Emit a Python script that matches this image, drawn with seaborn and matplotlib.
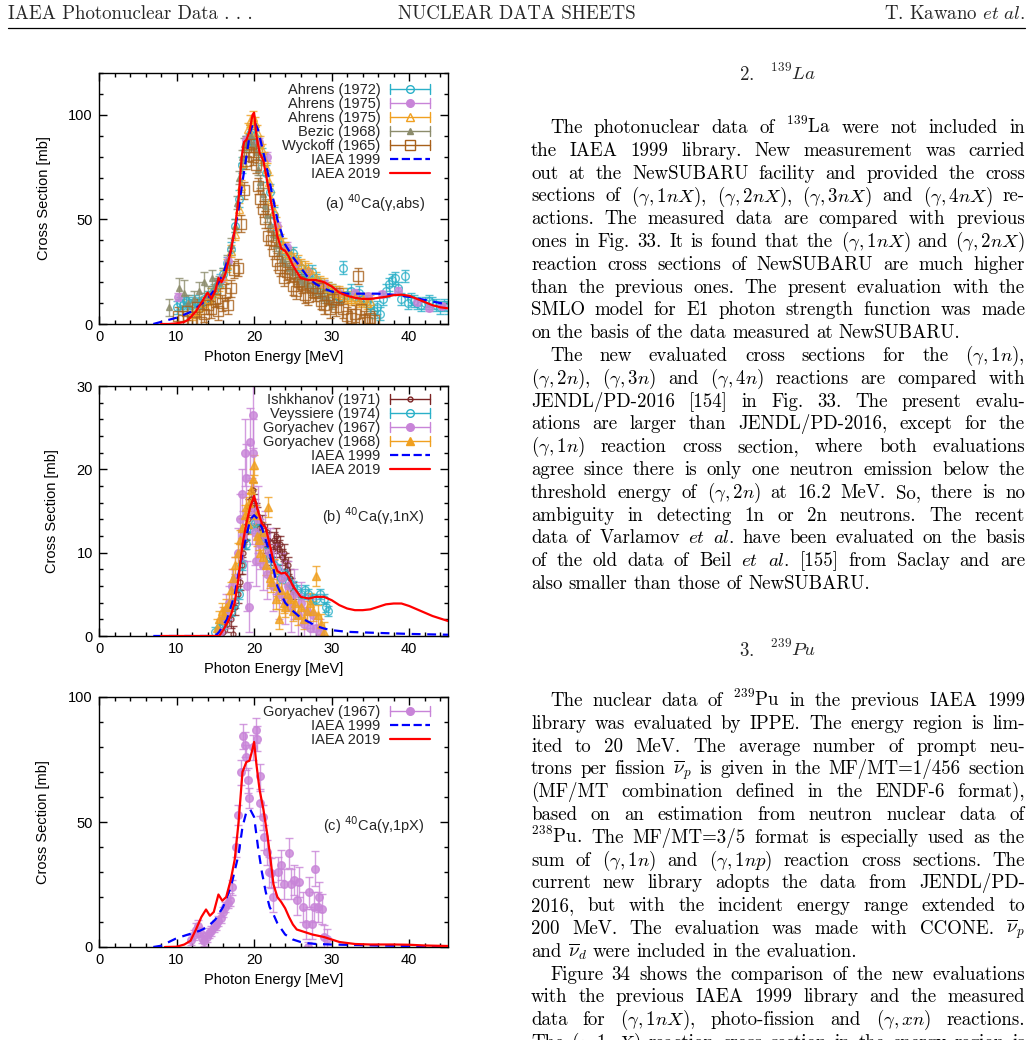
import matplotlib
matplotlib.use("Agg")
import matplotlib.pyplot as plt
import seaborn as sns
from matplotlib.lines import Line2D
from matplotlib.legend_handler import HandlerBase
from matplotlib.ticker import MultipleLocator

# ---------------- data: (E [MeV], sigma [mb], dsigma [mb]) ----------------
# (a) 40Ca(g,abs)
ABS_AHRENS72 = [(10.0, 8, 3), (10.4, 10, 3), (10.8, 9, 3), (11.2, 11, 3), (11.6, 10, 3), (12.0, 9, 3),
                (12.4, 11, 3), (12.8, 9, 3), (13.2, 10, 3), (13.6, 12, 3), (14.0, 13, 3), (14.4, 14, 3),
                (14.8, 16, 3), (15.2, 18, 3), (15.6, 21, 3), (16.0, 24, 3), (16.5, 29, 3), (17.0, 36, 3),
                (17.5, 47, 3), (18.0, 60, 4), (18.5, 76, 4), (19.0, 86, 4), (19.5, 91, 4), (20.0, 90, 4),
                (20.5, 86, 4), (21.0, 80, 4), (21.5, 72, 4), (22.0, 63, 4), (22.5, 52, 4), (23.0, 44, 3),
                (23.5, 38, 3), (24.0, 35, 3), (24.5, 33, 3), (25.0, 34, 3), (25.5, 29, 3), (26.0, 27, 3),
                (26.5, 25, 3), (27.0, 24, 3), (27.5, 25, 3), (28.0, 21, 3), (28.5, 19, 3), (29.0, 18, 3),
                (29.5, 17, 3), (30.0, 16, 3), (30.5, 15, 3), (31.0, 13, 3), (31.5, 27, 3), (32.0, 14, 3),
                (32.5, 16, 3), (33.0, 13, 3), (33.5, 15, 3), (34.0, 12, 3), (34.5, 11, 3), (35.0, 9, 3),
                (35.4, 6, 3), (35.8, 8, 3), (36.2, 5, 3), (36.6, 12, 3), (37.0, 16, 3), (37.4, 19, 3),
                (37.8, 21, 3), (38.2, 22, 3), (38.6, 17, 3), (39.0, 12, 3), (39.4, 23, 3), (39.8, 10, 3),
                (40.2, 12, 3), (40.6, 11, 3), (41.0, 10, 3), (41.5, 9, 3), (42.0, 10, 3), (42.5, 11, 3),
                (43.0, 10, 3), (43.5, 9, 3), (44.0, 8, 3), (44.5, 9, 3), (45.0, 8, 3)]
ABS_AHRENS75_A = [(10.2, 13, 2), (15.8, 22, 2), (16.6, 30, 2), (19.0, 88, 2), (20.6, 87, 2), (21.6, 80, 2),
                  (23.0, 47, 2), (24.2, 37, 2), (25.4, 29, 2), (27.0, 25, 2), (29.0, 19, 2), (31.0, 15, 2),
                  (33.0, 15, 1.5), (34.7, 13.5, 1.5), (36.5, 14.5, 1.5), (38.5, 16, 1.5), (41.0, 10.5, 1.5),
                  (42.5, 7.5, 1.5), (44.2, 8.5, 1.5)]
ABS_AHRENS75_B = [(12.0, 5, 3), (12.5, 6, 3), (13.0, 8, 3), (13.5, 10, 3), (14.0, 12, 3), (14.5, 14, 3),
                  (15.0, 16, 3), (15.5, 19, 3), (16.0, 23, 3), (16.5, 28, 3), (17.0, 35, 3), (17.5, 43, 3),
                  (18.0, 55, 3), (18.3, 66, 3), (18.6, 77, 3), (18.9, 86, 3), (19.2, 93, 3), (19.5, 97, 3),
                  (19.8, 99, 3), (20.1, 96, 3), (20.4, 92, 3), (20.7, 87, 3), (21.0, 83, 3), (21.3, 79, 3),
                  (21.6, 74, 3), (21.9, 68, 3), (22.2, 60, 3), (22.5, 54, 3), (22.8, 48, 3), (23.1, 44, 3),
                  (23.4, 40, 3), (23.7, 38, 3), (24.0, 36, 3), (24.4, 34, 3), (24.8, 33, 3), (25.2, 31, 3),
                  (25.6, 30, 3), (26.0, 28, 3), (26.5, 27, 3), (27.0, 26, 3), (27.5, 24, 3), (28.0, 22, 3),
                  (28.5, 20, 3), (29.0, 19, 3), (29.5, 17, 3), (30.0, 16, 3), (30.5, 15, 3), (31.0, 15, 3),
                  (31.5, 14, 3), (32.0, 13, 3), (32.5, 12, 3), (33.0, 13, 3), (33.5, 11, 3), (34.0, 12, 3),
                  (34.5, 10, 3), (35.0, 11, 3)]
ABS_BEZIC68 = [(9.0, 8, 4), (10.3, 17, 5), (10.9, 15, 6), (11.5, 10, 4), (12.3, 12, 4), (12.9, 16, 4),
               (13.5, 20, 5), (14.0, 14, 4), (14.6, 22, 4), (15.0, 18, 4), (15.5, 20, 3), (16.0, 24, 3),
               (16.5, 30, 3), (17.0, 38, 3), (17.5, 47, 3), (17.8, 58, 3), (18.1, 70, 3), (18.4, 80, 3),
               (18.7, 86, 3), (19.0, 87, 3), (19.3, 88, 3), (19.6, 90, 3), (19.9, 86, 3), (20.2, 82, 3),
               (20.5, 74, 3), (20.8, 68, 3), (21.1, 62, 3), (21.4, 57, 3), (21.7, 52, 3), (22.0, 48, 3),
               (22.4, 43, 3), (22.8, 38, 3), (23.2, 34, 3), (23.6, 31, 3), (24.0, 29, 3), (24.5, 27, 3),
               (25.0, 25, 3), (25.5, 22, 3), (26.0, 21, 3), (26.5, 20, 3), (27.0, 19, 3), (27.5, 17, 3),
               (28.0, 16, 3), (28.5, 14, 3), (29.0, 13, 3), (29.5, 12, 3), (30.0, 10, 3)]
ABS_WYCKOFF65 = [(10.2, 4, 4), (10.8, 2, 4), (11.4, 6, 4), (12.0, 1, 4), (12.6, 8, 4), (13.1, 1, 4),
                 (13.6, 5, 4), (14.0, 9, 4), (14.5, 7, 4), (14.9, 12, 4), (15.3, 6, 4), (15.8, 10, 4),
                 (16.2, 15, 4), (16.6, 9, 4), (17.0, 17, 4), (17.4, 26, 4), (17.9, 27, 4), (18.3, 48, 4),
                 (18.7, 64, 4), (19.0, 78, 4), (19.3, 82, 4), (19.6, 86, 4), (19.9, 80, 4), (20.2, 76, 4),
                 (20.5, 66, 4), (20.8, 60, 4), (21.1, 55, 4), (21.4, 50, 4), (21.8, 42, 4), (22.2, 40, 4),
                 (22.6, 35, 4), (23.0, 30, 4), (23.4, 27, 4), (23.8, 22, 4), (24.2, 25, 4), (24.6, 24, 4),
                 (25.0, 18, 4), (25.4, 16, 4), (25.8, 20, 4), (26.2, 19, 4), (26.6, 14, 4), (27.0, 13, 4),
                 (27.4, 17, 4), (27.8, 15, 4), (28.2, 17, 4), (28.6, 11, 4), (29.0, 9, 4), (29.4, 14, 4),
                 (29.8, 7, 4), (30.2, 12, 4), (30.6, 8, 4), (31.0, 13, 4), (31.5, 7, 4), (32.0, 4, 4),
                 (32.5, 3, 4), (33.0, 5, 4), (33.4, 23, 4), (33.8, 7, 4), (34.2, 2, 4), (34.6, 1, 4),
                 (35.0, 3, 4), (35.5, 2, 4)]
ABS_E1999 = [7, 8, 9, 10, 11, 12, 13, 14, 15, 16, 17, 18, 18.5, 19, 19.5, 20, 20.5, 21, 21.5, 22, 23, 24,
             25, 26, 27, 28, 29, 30, 32, 34, 36, 38, 40, 42, 44, 45]
ABS_S1999 = [0, 1, 2, 3, 4.5, 6, 9, 12, 17, 24, 35, 55, 68, 80, 92, 97, 93, 85, 77, 68, 50, 38,
             32, 27, 22, 19, 17, 15.5, 14.5, 14.5, 14.5, 14, 13, 11.5, 10, 9.5]
ABS_E2019 = [8, 9, 10, 11, 11.5, 12, 12.5, 13, 13.5, 14, 14.5, 15, 15.4, 15.8, 16.3, 17, 17.5, 18, 18.4,
             18.7, 19.0, 19.4, 19.8, 20.0, 20.3, 20.7, 21.2, 21.6, 22.0, 22.5, 23.0, 23.5, 24.0, 24.5, 25,
             26, 27, 28, 29, 30, 31, 32, 33, 34, 35, 36, 37, 38, 39, 40, 41, 42, 43, 44, 45]
ABS_S2019 = [0, 0, 0.3, 1, 2, 4, 6, 9, 12, 15, 12, 16, 22, 20, 24, 35, 45, 60, 80,
             87, 88, 92, 100, 101, 90, 82, 78, 70, 62, 52, 42, 36, 35, 32, 28,
             22, 21, 21, 20, 18, 15, 13.5, 12.5, 12, 12, 12.5, 13, 13.8, 14, 13.5, 12, 10.5, 9, 8, 7.5]

# (b) 40Ca(g,1nX)
N_ISHKHANOV71 = [(16.0, 0.5, 1), (16.5, 1.5, 1), (17.0, 2.0, 1), (17.3, 0.2, 1), (17.6, 3.5, 1),
                 (17.9, 5.0, 1), (18.2, 6.5, 1), (18.4, 8.5, 1), (18.6, 10.0, 1), (18.8, 11.5, 1),
                 (19.0, 12.5, 1), (19.2, 14.0, 1), (19.4, 15.5, 1), (19.6, 16.5, 1), (19.8, 17.5, 1),
                 (20.0, 16.0, 1), (20.2, 15.0, 1), (20.4, 14.5, 1), (20.6, 13.0, 1), (20.8, 12.5, 1),
                 (21.0, 13.5, 1), (21.2, 12.0, 1), (21.4, 11.0, 1), (21.6, 12.5, 1), (21.8, 11.5, 1),
                 (22.0, 10.0, 1), (22.2, 9.5, 1), (22.4, 10.5, 1), (22.6, 11.5, 1), (22.8, 12.0, 1),
                 (23.0, 11.0, 1), (23.2, 10.5, 1), (23.4, 11.0, 1), (23.6, 9.5, 1), (23.8, 10.0, 1),
                 (24.0, 9.0, 1), (24.2, 8.0, 1), (24.4, 8.5, 1), (24.6, 7.0, 1), (24.8, 6.0, 1), (25.0, 5.5, 1)]
N_VEYSSIERE74 = [(15.0, 0.5, 0.6), (15.5, 1.0, 0.6), (16.0, 1.5, 0.6), (16.5, 2.5, 0.6), (17.0, 3.0, 0.6),
                 (17.5, 4.0, 0.6), (18.0, 5.0, 0.6), (18.5, 8.5, 0.6), (19.0, 11.0, 0.6), (19.5, 13.0, 0.6),
                 (20.0, 13.5, 0.6), (20.5, 13.0, 0.6), (21.0, 12.0, 0.6), (21.5, 11.0, 0.6), (22.0, 9.5, 0.6),
                 (22.5, 8.5, 0.6), (23.0, 8.0, 0.6), (23.5, 7.0, 0.6), (24.0, 7.5, 0.6), (24.5, 6.5, 0.6),
                 (25.0, 6.0, 0.6), (25.5, 5.5, 0.6), (26.0, 5.0, 0.6), (26.5, 5.5, 0.6), (27.0, 5.0, 0.6),
                 (27.5, 4.5, 0.6), (28.0, 4.5, 0.6), (28.5, 5.0, 0.6), (29.0, 4.5, 0.6), (29.3, 3.5, 0.6),
                 (29.5, 3.0, 0.6)]
N_GORYACHEV67 = [(15.6, 0.5, 1.5), (16.0, 2.0, 1.5), (16.4, 3.0, 2), (16.8, 4.0, 2), (17.2, 6.0, 2),
                 (17.6, 7.0, 2.5), (17.9, 10.0, 3), (18.2, 14.0, 3), (18.4, 17.0, 3), (18.6, 12.0, 3),
                 (18.8, 22.0, 4), (19.0, 19.0, 4), (19.1, 6.0, 3), (19.3, 3.5, 3), (19.5, 23.3, 4),
                 (19.7, 15.0, 4), (19.8, 26.5, 4), (19.9, 22.0, 4), (20.1, 12.5, 4), (20.3, 9.0, 3),
                 (20.5, 14.0, 4), (20.8, 11.0, 3), (21.1, 8.5, 3), (21.4, 12.0, 3), (21.7, 7.5, 3),
                 (22.0, 10.0, 3), (22.4, 6.0, 3), (22.8, 8.0, 3), (23.2, 5.0, 3), (23.6, 7.0, 3),
                 (24.0, 4.5, 3), (24.4, 6.0, 3), (24.8, 3.5, 3), (25.2, 5.0, 3), (25.6, 2.5, 2.5),
                 (26.0, 4.0, 2.5), (26.4, 1.5, 2), (26.8, 3.0, 2), (27.2, 1.0, 2), (27.6, 2.5, 2),
                 (28.0, 1.0, 1.5), (28.5, 0.5, 1.5)]
N_GORYACHEV68 = [(15.2, 1.0, 1), (15.5, 2.0, 1), (15.8, 3.0, 1), (16.1, 2.5, 1), (16.4, 3.5, 1),
                 (16.7, 4.0, 1), (17.0, 5.5, 1), (17.3, 7.0, 1), (17.6, 8.5, 1), (17.9, 10.0, 1.2),
                 (18.2, 11.5, 1.2), (18.5, 13.0, 1.2), (18.8, 14.5, 1.2), (19.0, 15.5, 1.2), (19.2, 13.5, 1.2),
                 (19.4, 16.0, 1.2), (19.6, 17.5, 1.2), (19.8, 18.8, 1.2), (20.0, 20.5, 1.2), (20.2, 14.5, 1.2),
                 (20.4, 12.0, 1.2), (20.6, 11.5, 1.2), (20.8, 10.0, 1.2), (21.0, 12.5, 1.2), (21.2, 9.5, 1.2),
                 (21.5, 8.5, 1.2), (21.8, 15.5, 1.2), (22.0, 7.0, 1.2), (22.2, 6.5, 1.2), (22.5, 8.0, 1.2),
                 (22.8, 4.5, 1.2), (23.0, 6.0, 1.2), (23.2, 2.0, 1.2), (23.5, 5.5, 1.2), (23.8, 4.0, 1.2),
                 (24.0, 3.5, 1.2), (24.3, 5.0, 1.2), (24.6, 4.5, 1.2), (25.0, 3.0, 1.2), (25.3, 4.0, 1.2),
                 (25.6, 2.5, 1.2), (26.0, 3.5, 1.2), (26.4, 2.0, 1.2), (26.8, 3.0, 1.2), (27.2, 4.0, 1.2),
                 (27.6, 3.0, 1.2), (28.0, 7.2, 1.2), (28.3, 2.5, 1.2), (28.6, 1.5, 1.2), (29.0, 0.5, 1.2)]
N_E1999 = [7, 10, 13, 15, 15.5, 16.5, 17.5, 18.5, 19.5, 20, 20.5, 21, 22, 22.5, 23, 24, 25, 26, 27, 28,
           29, 30, 32, 35, 40, 45]
N_S1999 = [0, 0, 0, 0, 0.5, 2, 5, 10, 14, 14.5, 14, 13, 10, 8, 6, 4, 3, 2.2, 1.7, 1.2,
           0.9, 0.7, 0.5, 0.4, 0.25, 0.15]
N_E2019 = [8, 10, 12, 14, 15.5, 16, 16.5, 17, 17.5, 18, 18.5, 19, 19.5, 20, 20.5, 21, 21.5, 22, 22.5, 23,
           23.5, 24, 24.5, 25, 26, 27, 28, 29, 30, 31, 32, 33, 34, 35, 36, 37, 38, 39, 40, 41, 42, 43, 44, 45]
N_S2019 = [0, 0, 0, 0, 0, 0.7, 1.5, 2.5, 4, 7, 11, 13.5, 15.5, 16.8, 15, 13.5, 13, 11, 9, 7.8,
           7.5, 7.6, 7, 6, 4.7, 4.5, 4.7, 4.7, 4.3, 3.7, 3.3, 3.1, 3.1, 3.2, 3.5, 3.8, 3.9, 3.9, 3.6,
           3.2, 2.8, 2.4, 2.1, 1.8]

# (c) 40Ca(g,1pX)
P_GORYACHEV67 = [(11.9, 3, 2), (12.2, 5, 2), (12.5, 7, 2.5), (12.8, 8.5, 2.5), (13.0, 6, 2), (13.3, 3.5, 2),
                 (13.6, 2.5, 2), (13.9, 4, 2), (14.2, 5.5, 2), (14.5, 6.5, 2), (14.8, 8, 2), (15.1, 9, 2),
                 (15.4, 10.5, 2), (15.7, 11.5, 2), (16.0, 14, 2), (16.3, 16, 2), (16.6, 17.5, 2),
                 (16.9, 19, 2.5), (17.2, 24, 3), (17.7, 40, 4), (17.9, 52.8, 4), (18.25, 70, 5),
                 (18.55, 84.4, 5), (18.77, 81, 5), (18.98, 76, 5), (19.19, 66.8, 5), (19.4, 59.5, 4),
                 (19.8, 80, 5), (20.18, 86.8, 5), (20.4, 83.3, 5), (20.7, 68.3, 5), (20.82, 57.6, 5),
                 (21.1, 52, 5), (21.3, 44, 5), (21.6, 38, 5), (21.9, 30, 6), (22.2, 29.5, 6), (22.4, 20, 6),
                 (23.05, 30, 6), (23.5, 32.9, 6), (23.9, 25.2, 6), (24.55, 37.6, 6), (24.8, 25.2, 6),
                 (25.2, 26.7, 6), (25.5, 18.7, 6), (25.8, 26, 6), (26.35, 16, 6), (26.7, 9.3, 6),
                 (26.95, 0, 2), (27.1, 22, 6), (27.5, 9.3, 6), (27.7, 16, 6), (27.9, 31.3, 7), (28.2, 16, 6),
                 (28.4, 20, 6), (28.75, 15.3, 6), (29.05, 4, 5), (29.4, 3.3, 4)]
P_E1999 = [7, 8, 9, 10, 11, 12, 13, 14, 15, 16, 17, 18, 18.5, 19, 19.5, 20, 20.5, 21, 21.5, 22, 22.5, 23,
           24, 25, 26, 27, 28, 30, 33, 36, 40, 45]
P_S1999 = [0, 0.5, 2, 3.5, 4.5, 5.5, 6.5, 8, 11, 16, 24, 37, 48, 54, 55, 52, 40, 30, 22, 16, 13, 9.5,
           5, 3, 2, 1.5, 1.2, 1, 0.8, 0.6, 0.4, 0.2]
P_E2019 = [8.5, 10, 11, 11.8, 12.5, 13.2, 13.8, 14.3, 14.8, 15.4, 15.9, 16.4, 17, 17.5, 18, 18.5, 19, 19.4,
           19.7, 20, 20.3, 20.7, 21.2, 21.7, 22, 22.5, 23, 23.5, 24, 24.5, 25, 25.5, 26.5, 27.5, 29, 30,
           31, 33, 35, 38, 40, 42, 45]
P_S2019 = [0, 0.1, 1, 2.5, 7, 12, 15, 12.5, 14, 21, 18.5, 20, 27, 35, 50, 70, 74, 74.5,
           78, 82, 73, 63, 55, 45, 38, 25, 20, 18, 15.5, 12, 9, 7, 6, 5, 4, 3,
           2, 1.2, 1, 1, 0.9, 0.6, 0.4]

# ---------------- page text ----------------
HEADER = ["IAEA Photonuclear Data . . .", "NUCLEAR DATA SHEETS", r"T. Kawano $\mathit{et\ al.}$"]
LA_HEAD = [r"$\mathit{2.}$", r"$^{139}\mathit{La}$"]
LA_PARAS = [
    [r"The photonuclear data of $^{139}$La were not included in",
     r"the IAEA 1999 library.  New measurement was carried",
     r"out at the NewSUBARU facility and provided the cross",
     r"sections of $(\gamma,1nX)$, $(\gamma,2nX)$, $(\gamma,3nX)$ and $(\gamma,4nX)$ re-",
     r"actions. The measured data are compared with previous",
     r"ones in Fig. 33. It is found that the $(\gamma,1nX)$ and $(\gamma,2nX)$",
     r"reaction cross sections of NewSUBARU are much higher",
     r"than the previous ones. The present evaluation with the",
     r"SMLO model for E1 photon strength function was made",
     r"on the basis of the data measured at NewSUBARU."],
    [r"The new evaluated cross sections for the $(\gamma,1n)$,",
     r"$(\gamma,2n)$, $(\gamma,3n)$ and $(\gamma,4n)$ reactions are compared with",
     r"JENDL/PD-2016 [154] in Fig. 33.  The present evalu-",
     r"ations are larger than JENDL/PD-2016, except for the",
     r"$(\gamma,1n)$ reaction cross section, where both evaluations",
     r"agree since there is only one neutron emission below the",
     r"threshold energy of $(\gamma,2n)$ at 16.2 MeV. So, there is no",
     r"ambiguity in detecting 1n or 2n neutrons.  The recent",
     r"data of Varlamov $\mathit{et}$ $\mathit{al.}$ have been evaluated on the basis",
     r"of the old data of Beil $\mathit{et}$ $\mathit{al.}$ [155] from Saclay and are",
     r"also smaller than those of NewSUBARU."],
]
PU_HEAD = [r"$\mathit{3.}$", r"$^{239}\mathit{Pu}$"]
PU_PARAS = [
    [r"The nuclear data of $^{239}$Pu in the previous IAEA 1999",
     r"library was evaluated by IPPE. The energy region is lim-",
     r"ited to 20 MeV. The average number of prompt neu-",
     r"trons per fission $\overline{\nu}_p$ is given in the MF/MT=1/456 section",
     r"(MF/MT combination defined in the ENDF-6 format),",
     r"based on an estimation from neutron nuclear data of",
     r"$^{238}$Pu. The MF/MT=3/5 format is especially used as the",
     r"sum of $(\gamma,1n)$ and $(\gamma,1np)$ reaction cross sections. The",
     r"current new library adopts the data from JENDL/PD-",
     r"2016, but with the incident energy range extended to",
     r"200 MeV. The evaluation was made with CCONE. $\overline{\nu}_p$",
     r"and $\overline{\nu}_d$ were included in the evaluation."],
    # continues on the next page; the last line is cut by the page edge
    [r"Figure 34 shows the comparison of the new evaluations",
     r"with the previous IAEA 1999 library and the measured",
     r"data for $(\gamma,1nX)$, photo-fission and $(\gamma,xn)$ reactions.",
     r"The $(\gamma,1nX)$ reaction cross section in the energy region is"],
]
PU_ENDED = [True, False]

# ---------------- style ----------------
W, H = 1034, 1040
BODY_PT = 13.6
PLOT_PT = 10.5
CYAN, VIOLET, ORANGE = "#2ab0c8", "#c884d8", "#f0a020"
OLIVE, BROWN, MAROON = "#8c8c6c", "#a8601a", "#7b2424"

sns.set_theme(style="ticks")
plt.rcParams["font.family"] = ["Liberation Sans", "DejaVu Sans"]
plt.rcParams["mathtext.fontset"] = "cm"

fig = plt.figure(figsize=(W / 100, H / 100), dpi=100)
fig.patch.set_facecolor("white")
renderer = fig.canvas.get_renderer()


def rect(x0, y0, x1, y1):
    return [x0 / W, 1 - y1 / H, (x1 - x0) / W, (y1 - y0) / H]


class GnuKey(HandlerBase):
    # gnuplot-like key sample: |--o--| for data, plain line for curves
    def create_artists(self, legend, orig, xd, yd, width, height, fontsize, trans):
        y = height / 2 - yd
        x0, x1 = -xd, width - xd
        col = orig.get_color()
        arts = []
        if orig.get_marker() in (None, "None", ""):
            arts.append(Line2D([x0, x1], [y, y], color=col, lw=orig.get_linewidth(),
                               ls=orig.get_linestyle()))
        else:
            arts.append(Line2D([x0, x1], [y, y], color=col, lw=1))
            for xx in (x0, x1):
                arts.append(Line2D([xx, xx], [y - 3.5, y + 3.5], color=col, lw=1))
            arts.append(Line2D([(x0 + x1) / 2], [y], marker=orig.get_marker(), ms=orig.get_markersize(),
                               mfc=orig.get_markerfacecolor(), mec=col, mew=1, ls="none"))
        for a in arts:
            a.set_transform(trans)
        return arts


def panel(y0, y1, ymax, ymaj, ymin_, exp, e99, s99, e19, s19, tag, tag_y, leg_top, ylab_x):
    ax = fig.add_axes(rect(99, y0, 448, y1))
    handles, labels = [], []
    for lab, data, col, mk, filled, ms in exp:
        e, s, d = zip(*data)
        fc = col if filled else "none"
        ax.errorbar(e, s, yerr=d, fmt=mk, ms=ms, color=col, mfc=fc, mec=col, mew=1,
                    elinewidth=1, capsize=3, capthick=1, alpha=0.8, zorder=2)
        handles.append(Line2D([], [], color=col, marker=mk, ms=ms, mfc=fc))
        labels.append(lab)
    sns.lineplot(x=e99, y=s99, ax=ax, color="#0000ff", lw=1.6, linestyle=(0, (4, 3)),
                 estimator=None, sort=False, legend=False, zorder=3)
    sns.lineplot(x=e19, y=s19, ax=ax, color="#ff0000", lw=1.6,
                 estimator=None, sort=False, legend=False, zorder=4)
    handles += [Line2D([], [], color="#0000ff", lw=1.6, ls=(0, (4, 3)), marker="None"),
                Line2D([], [], color="#ff0000", lw=1.6, marker="None")]
    labels += ["IAEA 1999", "IAEA 2019"]

    ax.set_xlim(0, 45)
    ax.set_ylim(0, ymax)
    ax.xaxis.set_major_locator(MultipleLocator(10))
    ax.xaxis.set_minor_locator(MultipleLocator(2))
    ax.yaxis.set_major_locator(MultipleLocator(ymaj))
    ax.yaxis.set_minor_locator(MultipleLocator(ymin_))
    ax.tick_params(which="both", direction="in", top=True, right=True, width=1, color="black",
                   labelsize=PLOT_PT, labelcolor="black")
    ax.tick_params(which="major", length=6, pad=4.5)
    ax.tick_params(which="minor", length=3)
    for sp in ax.spines.values():
        sp.set_visible(True)
        sp.set_linewidth(1)
        sp.set_color("black")
    ax.set_xlabel("Photon Energy [MeV]", fontsize=PLOT_PT, color="black")
    ax.set_ylabel("Cross Section [mb]", fontsize=PLOT_PT, color="black")
    ax.xaxis.set_label_coords(0.5, -0.105)
    ax.yaxis.set_label_coords(ylab_x, 0.5)

    ax.legend(handles, labels, loc="upper right", bbox_to_anchor=(0.948, 1 - (leg_top - y0) / (y1 - y0)),
              markerfirst=False, frameon=False, handlelength=2.7, handletextpad=0.7,
              labelspacing=0.0, borderpad=0, borderaxespad=0, fontsize=PLOT_PT,
              handler_map={Line2D: GnuKey()})
    ax.text(1 - 23 / 349, 1 - (tag_y - y0) / (y1 - y0), tag, transform=ax.transAxes,
            ha="right", va="center", fontsize=PLOT_PT, math_fontfamily="dejavusans")
    return ax


panel(73, 324, 120, 50, 10,
      [("Ahrens (1972)", ABS_AHRENS72, CYAN, "o", False, 5.5),
       ("Ahrens (1975)", ABS_AHRENS75_A, VIOLET, "o", True, 5.5),
       ("Ahrens (1975)", ABS_AHRENS75_B, ORANGE, "^", False, 6),
       ("Bezic (1968)", ABS_BEZIC68, OLIVE, "^", True, 5),
       ("Wyckoff (1965)", ABS_WYCKOFF65, BROWN, "s", False, 7)],
      ABS_E1999, ABS_S1999, ABS_E2019, ABS_S2019,
      r"(a) $^{40}$Ca(γ,abs)", 203, 83, -0.137)

panel(386, 636, 30, 10, 2,
      [("Ishkhanov (1971)", N_ISHKHANOV71, MAROON, "o", False, 3.5),
       ("Veyssiere (1974)", N_VEYSSIERE74, CYAN, "o", False, 5.5),
       ("Goryachev (1967)", N_GORYACHEV67, VIOLET, "o", True, 5.5),
       ("Goryachev (1968)", N_GORYACHEV68, ORANGE, "^", True, 6)],
      N_E1999, N_S1999, N_E2019, N_S2019,
      r"(b) $^{40}$Ca(γ,1nX)", 516, 393, -0.114)

panel(697, 947, 100, 50, 10,
      [("Goryachev (1967)", P_GORYACHEV67, VIOLET, "o", True, 5.5)],
      P_E1999, P_S1999, P_E2019, P_S2019,
      r"(c) $^{40}$Ca(γ,1pX)", 825, 705, -0.140)


# ---------------- page text helpers ----------------
def body_line(text, y, x0, x1, justify, size=BODY_PT):
    words = text.split()
    arts = [fig.text(0, 1 - y / H, w, fontsize=size, family="cmr10", va="baseline", color="black")
            for w in words]
    widths = [a.get_window_extent(renderer).width for a in arts]
    if justify and len(words) > 1:
        gap = (x1 - x0 - sum(widths)) / (len(words) - 1)
    else:
        gap = size * 0.33 * 100 / 72
    x = x0
    for a, wd in zip(arts, widths):
        a.set_x(x / W)
        x += wd + gap


def heading(parts, y, cx):
    arts = [fig.text(0, 1 - y / H, p, fontsize=BODY_PT, va="baseline") for p in parts]
    widths = [a.get_window_extent(renderer).width for a in arts]
    gap = 16
    x = cx - (sum(widths) + gap * (len(parts) - 1)) / 2
    for a, wd in zip(arts, widths):
        a.set_x(x / W)
        x += wd + gap


def paragraphs(paras, y, ended=None, step=22.8, left=531, right=1025, indent=19):
    ended = ended or [True] * len(paras)
    for para, done in zip(paras, ended):
        for i, line in enumerate(para):
            last = done and i == len(para) - 1
            body_line(line, y, left + (indent if i == 0 else 0), right, not last)
            y += step
    return y


# header
fig.text(8 / W, 1 - 19 / H, HEADER[0], fontsize=BODY_PT, family="cmr10", va="baseline")
fig.text(517 / W, 1 - 19 / H, HEADER[1], fontsize=BODY_PT, family="cmr10", va="baseline", ha="center")
fig.text(1025 / W, 1 - 19 / H, HEADER[2], fontsize=BODY_PT, family="cmr10", va="baseline", ha="right")
fig.add_artist(Line2D([8 / W, 1025 / W], [1 - 28 / H, 1 - 28 / H], color="black", lw=0.9))

heading(LA_HEAD, 80, 778)
paragraphs(LA_PARAS, 133)
heading(PU_HEAD, 656, 778)
paragraphs(PU_PARAS, 706, PU_ENDED)

fig.savefig("out.png", dpi=100, facecolor="white")
